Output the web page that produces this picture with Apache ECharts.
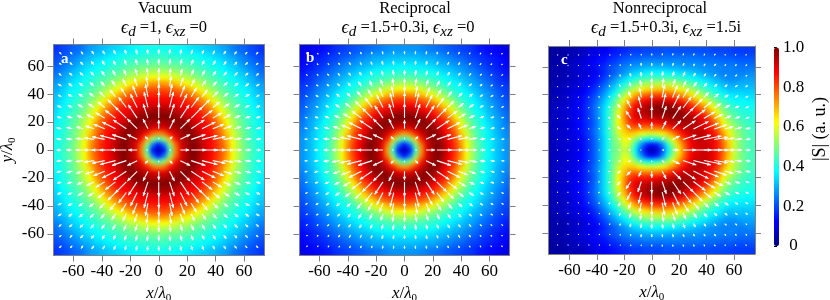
<!DOCTYPE html>
<html><head><meta charset="utf-8">
<style>html,body{margin:0;padding:0;background:#fff}#c{width:830px;height:300px}</style>
<script src="https://cdn.jsdelivr.net/npm/echarts@6/dist/echarts.min.js"></script>
</head><body><div id="c"></div>
<script>
// cell centres of the |S| maps (units of lambda0)
const cellCentres=[-72,-68,-64,-60,-56,-52,-48,-44,-40,-36,-32,-28,-24,-20,-16,-12,-8,-4,0,4,8,12,16,20,24,28,32,36,40,44,48,52,56,60,64,68,72];
const tickValues=[-60,-40,-20,0,20,40,60];
const barTicks=[0,0.2,0.4,0.6,0.8,1];
// arrow grid centres, from 0 outward
const arrowStepCentres=[0,7.6,15.2,22.8,30.4,38,45.6,53.2,60.8,68.4];

// |S| in percent. x>=0, y>=0 quadrant (rows y=0..72, cols x=0..72)
const vacuumS=[
[3,13,44,74,90,96,100,97,92,88,84,79,72,62,55,49,45,42,39],
[13,25,52,77,91,96,100,97,92,88,84,79,72,62,55,49,45,42,39],
[44,52,70,86,94,97,100,96,91,88,83,78,70,61,54,48,44,41,39],
[74,77,86,92,96,99,98,94,90,87,82,76,68,59,53,48,44,41,38],
[90,91,94,96,98,100,96,92,88,85,80,74,65,57,51,47,43,40,37],
[96,96,97,99,100,97,93,90,87,83,78,71,62,56,50,46,42,40,36],
[100,100,100,98,96,93,90,88,84,80,75,66,59,53,48,45,42,39,35],
[97,97,96,94,92,90,88,85,81,76,70,62,56,50,46,43,40,38,34],
[92,92,91,90,88,87,84,81,76,72,64,58,53,48,45,42,39,36,33],
[88,88,88,87,85,83,80,76,72,65,59,54,49,46,43,40,38,35,32],
[84,84,83,82,80,78,75,70,64,59,54,50,47,44,41,39,36,33,31],
[79,79,78,76,74,71,66,62,58,54,50,47,44,42,39,37,35,32,29],
[72,72,70,68,65,62,59,56,53,49,47,44,42,40,37,35,32,30,28],
[62,62,61,59,57,56,53,50,48,46,44,42,40,38,35,33,31,28,25],
[55,55,54,53,51,50,48,46,45,43,41,39,37,35,33,31,28,26,23],
[49,49,48,48,47,46,45,43,42,40,39,37,35,33,31,28,26,24,22],
[45,45,44,44,43,42,42,40,39,38,36,35,32,31,28,26,24,22,20],
[42,42,41,41,40,40,39,38,36,35,33,32,30,28,26,24,22,20,19],
[39,39,39,38,37,36,35,34,33,32,31,29,28,25,23,22,20,19,17]];
const reciprocalS=[
[3,13,42,72,90,97,100,95,88,82,73,62,53,46,41,37,33,30,27],
[13,24,50,76,91,97,100,95,88,82,73,62,53,46,41,37,33,30,27],
[42,50,68,85,94,98,99,93,87,80,71,60,52,45,40,36,33,30,27],
[72,76,85,92,97,100,97,91,85,78,68,58,50,44,40,36,32,29,26],
[90,91,94,97,99,98,94,88,82,75,64,55,48,43,39,35,31,28,25],
[97,97,98,100,98,95,90,85,79,70,60,52,46,42,38,34,31,28,24],
[100,100,99,97,94,90,85,80,73,64,56,49,44,40,36,32,29,27,23],
[95,95,93,91,88,85,80,74,66,58,52,46,41,38,34,31,28,25,22],
[88,88,87,85,82,79,73,66,59,53,47,43,39,36,33,30,27,24,21],
[82,82,80,78,75,70,64,58,53,48,43,40,37,34,31,28,25,23,20],
[73,73,71,68,64,60,56,52,47,43,40,38,35,32,29,27,24,21,19],
[62,62,60,58,55,52,49,46,43,40,38,35,32,30,27,25,22,20,18],
[53,53,52,50,48,46,44,41,39,37,35,32,30,28,25,23,20,18,17],
[46,46,45,44,43,42,40,38,36,34,32,30,28,25,23,21,19,17,15],
[41,41,40,40,39,38,36,34,33,31,29,27,25,23,21,19,17,16,14],
[37,37,36,36,35,34,32,31,30,28,27,25,23,21,19,17,16,14,13],
[33,33,33,32,31,31,29,28,27,25,24,22,20,19,17,16,15,14,12],
[30,30,30,29,28,28,27,25,24,22,21,20,18,17,16,14,14,12,11],
[27,27,27,26,25,24,23,22,21,20,19,18,17,15,14,13,12,11,10]];
// y>=0 half (rows y=0..72, cols x=-72..72)
const nonreciprocalS=[
[6,7,8,9,10,12,15,19,24,31,39,48,50,58,52,38,22,10,4,7,20,36,50,64,76,86,90,92,92,90,85,78,68,58,51,47,44],
[6,7,8,9,10,12,15,19,24,31,39,48,51,60,56,42,28,17,12,15,25,40,54,67,78,87,91,92,92,90,85,78,68,58,51,47,44],
[6,7,8,9,10,12,15,19,24,31,39,49,53,62,61,52,44,39,37,40,45,53,63,73,82,89,93,94,93,90,85,76,66,57,51,47,44],
[6,7,8,9,10,13,16,20,25,32,40,49,58,66,68,66,62,60,59,60,63,68,75,82,88,92,94,94,92,88,82,73,64,56,50,47,44],
[6,7,8,9,11,13,16,20,25,32,40,50,60,68,76,78,76,75,75,76,78,82,86,90,93,94,94,92,90,85,78,68,60,54,49,46,43],
[6,7,8,9,11,13,16,19,24,32,40,50,62,72,82,86,86,86,87,88,90,92,94,96,96,96,94,92,88,82,73,63,55,50,46,44,42],
[6,7,8,9,11,13,16,20,25,32,40,50,62,73,84,90,92,93,94,95,96,97,98,99,98,96,93,89,84,76,67,58,51,47,44,42,41],
[6,7,8,9,11,13,16,20,25,32,40,49,60,71,83,90,94,96,98,99,100,100,100,98,95,91,87,82,76,68,60,52,47,44,42,41,40],
[6,7,8,9,11,13,16,20,25,31,38,47,57,68,79,87,92,95,97,99,100,99,97,94,91,86,81,75,69,62,55,49,44,42,40,39,38],
[5,6,7,8,10,12,15,19,23,29,35,43,52,62,72,80,85,88,90,91,91,90,88,85,81,76,70,64,58,52,47,43,40,38,37,37,36],
[5,6,7,8,10,11,14,17,21,26,32,38,46,54,63,70,75,78,80,81,81,80,78,75,71,66,60,55,50,46,42,39,36,35,35,34,34],
[5,6,7,8,9,10,12,15,18,23,28,33,40,46,52,58,62,65,67,68,68,68,66,63,60,56,51,47,43,40,37,34,32,32,32,32,32],
[4,5,6,7,8,9,11,13,16,20,24,29,34,39,44,48,52,54,55,56,56,56,55,53,50,47,44,41,38,35,33,31,29,29,30,30,30],
[4,5,5,6,7,8,10,12,14,17,21,25,29,33,37,40,43,44,45,45,45,45,45,43,41,39,37,35,33,31,29,27,26,26,27,28,28],
[4,4,5,6,7,8,9,10,12,15,18,21,24,27,30,33,35,36,37,37,37,37,36,35,34,33,31,30,28,27,26,25,25,25,25,25,26],
[4,5,5,6,7,9,10,12,14,16,19,21,23,25,27,28,29,30,31,31,31,30,30,29,28,28,28,27,27,26,26,25,25,25,24,24,24],
[4,4,5,6,7,8,9,11,13,14,16,18,20,22,23,24,25,26,26,26,26,26,26,26,25,25,25,25,24,24,24,23,23,23,22,22,22],
[3,4,4,5,6,7,8,10,11,13,14,16,17,19,20,21,21,22,22,22,22,23,23,23,23,23,23,22,22,22,21,21,21,20,20,20,20],
[3,3,4,5,5,6,7,9,10,11,12,14,15,16,17,18,18,19,19,19,20,20,20,20,20,20,20,20,20,19,19,19,19,18,18,18,18]];

// arrow lengths, same quadrant/half layout as above
const vacuumArrows=[
[0,1.5,9,15,16,13,10,7.5,6,5],
[1.5,4,11,15,16,13,10,7.5,6,5],
[9,11,14,16,15,12,9,7,6,5],
[15,15,16,16,13,10.5,8,6.5,5.5,4.5],
[16,16,15,13,11,9,7,6,5,4.5],
[13,13,12,10.5,9,7.5,6,5.5,5,4],
[10,10,9,8,7,6,5.5,5,4.5,4],
[7.5,7.5,7,6.5,6,5.5,5,4.5,4,3.5],
[6,6,6,5.5,5,5,4.5,4,3.5,3],
[5,5,5,4.5,4.5,4,4,3.5,3,3]];
const reciprocalArrows=[
[0,1.5,9,15,15,11,8,5.5,4,3],
[1.5,4,11,15,15,11,8,5.5,4,3],
[9,11,14,15,14,10,7,5,4,3],
[15,15,15,14,12,8.5,6,4.5,3.5,2.5],
[15,15,14,12,9,7,5.5,4,3,2.5],
[11,11,10,8.5,7,5.5,4.5,3.5,3,2.5],
[8,8,7,6,5.5,4.5,3.5,3,2.5,2],
[5.5,5.5,5,4.5,4,3.5,3,2.5,2,2],
[4,4,4,3.5,3,3,2.5,2,2,1.5],
[3,3,3,2.5,2.5,2.5,2,2,1.5,1.5]];
const nonreciprocalArrows=[
[1,1,1,1,1,1.5,2,2.5,1,0,2,6,13,18,18,14,10,7,5],
[1,1,1,1,1,1.5,2,3,2,1.5,3,8,14,18,18,14,10,7,5],
[1,1,1,1,1,2,4,6,6,7,9,12,15,17,16,13,9,7,5],
[1,1,1,1,1.5,2,5,9,11,12,13,15,15,15,13,10,7,5,4],
[1,1,1,1,1.5,2,5,9,12,14,15,15,14,13,10,8,6,4.5,3.5],
[1,1,1,1,1.5,2,4,7,10,13,13,13,11,9,7,6,4.5,3.5,3],
[1,1,1,1,1,2,3,5,7,9,9,8,7,6,5,4,3.5,3,2.5],
[1,1,1,1,1,1.5,2,3.5,4.5,5,5,5,5,4,3.5,3,2.5,2.5,2],
[1,1,1,1,1,1,1.5,2,3,3,3,3,3,2.5,2.5,2.5,2,2,2],
[1,1,1,1,1,1,1,1.5,1.5,2,2,2,2,2,2,2,1.5,1.5,1.5]];

const SERIF='"Liberation Serif","Times New Roman",serif';
const GREY='#7f7f7f';
const jet=['#00007f','#0000ff','#007fff','#00ffff','#7fff7f','#ffff00','#ff7f00','#ff0000','#7f0000'];

const panels=[
 {s:vacuumS,a:vacuumArrows,half:false,left:53.5,top:44.5,w:210.5,h:211,xr:74,yr:75.4,yLabels:true},
 {s:reciprocalS,a:reciprocalArrows,half:false,left:299.5,top:44.5,w:210,h:211,xr:74.1,yr:75.4,yLabels:false},
 {s:nonreciprocalS,a:nonreciprocalArrows,half:true,left:548.5,top:46,w:206.5,h:208,xr:75.3,yr:75.2,yLabels:false}
];

// the maps repeat their outer cells past the frame so that the soft edge falls outside it
const PAD=2;
const padded=[];
for(let k=-PAD;k<cellCentres.length+PAD;k++)padded.push(k<0?cellCentres[0]+4*k:k>=cellCentres.length?cellCentres[cellCentres.length-1]+4*(k-cellCentres.length+1):cellCentres[k]);
const N=cellCentres.length, mid=(N-1)/2;
const clampI=(k)=>Math.max(0,Math.min(N-1,k));
function cellData(p){
  const out=[];
  for(let yi=0;yi<padded.length;yi++)for(let xi=0;xi<padded.length;xi++){
    const cy=clampI(yi-PAD), cx=clampI(xi-PAD);
    const r=p.s[Math.abs(cy-mid)];
    out.push([xi,yi,p.half?r[cx]:r[Math.abs(cx-mid)]]);
  }
  return out;
}
function arrowData(p){
  const out=[], M=arrowStepCentres.length;
  for(let yi=-(M-1);yi<M;yi++)for(let xi=-(M-1);xi<M;xi++){
    const r=p.a[Math.abs(yi)];
    const len=p.half?r[xi+M-1]:r[Math.abs(xi)];
    const x=Math.sign(xi)*arrowStepCentres[Math.abs(xi)], y=Math.sign(yi)*arrowStepCentres[Math.abs(yi)];
    if(len>0)out.push([x,y,len]);
  }
  return out;
}
function renderArrow(params,api){
  const x=api.value(0),y=api.value(1),L=api.value(2);
  const p=api.coord([x,y]);
  const n=Math.hypot(x,y)||1, ux=x/n, uy=-y/n;
  const tip=[p[0]+ux*L,p[1]+uy*L];
  const hl=Math.min(3.6,L*0.6), hw=Math.min(1.7,L*0.35);
  const bx=tip[0]-ux*hl, by=tip[1]-uy*hl;
  return {type:'group',children:[
    {type:'line',shape:{x1:p[0],y1:p[1],x2:tip[0],y2:tip[1]},style:{stroke:'#fff',lineWidth:1.1,fill:null}},
    {type:'polygon',shape:{points:[tip,[bx-uy*hw,by+ux*hw],[bx+uy*hw,by-ux*hw]]},style:{fill:'#fff'}}
  ]};
}

const grid=[],xAxis=[],yAxis=[],series=[];
const tickStyle={show:true,customValues:tickValues,length:6,inside:false,lineStyle:{color:GREY,width:1}};
const nameRich={i:{fontFamily:SERIF,fontSize:17,fontStyle:'italic',color:'#000',lineHeight:20},s:{fontFamily:SERIF,fontSize:11,color:'#000',verticalAlign:'bottom'},t:{fontFamily:SERIF,fontSize:17,color:'#000',lineHeight:20}};
const clipParts=[];
panels.forEach((p,pi)=>{
  const gi=grid.length;
  grid.push({left:p.left,top:p.top,width:p.w,height:p.h,show:false,outerBoundsMode:'none'});
  const sx=p.w/(2*p.xr), sy=p.h/(2*p.yr), hw=(72+2+4*PAD)*sx, hh=(72+2+4*PAD)*sy;
  const cx=p.left+p.w/2, cy=p.top+p.h/2;
  const hg=grid.length;
  grid.push({left:cx-hw,top:cy-hh,width:2*hw,height:2*hh,show:false,outerBoundsMode:'none'});
  clipParts.push(`M${p.left} ${p.top}h${p.w}v${p.h}h${-p.w}z`);
  const line={show:true,onZero:false,lineStyle:{color:GREY,width:1}};
  const xBase=xAxis.length,yBase=yAxis.length;
  xAxis.push({type:'value',gridIndex:gi,position:'bottom',min:-p.xr,max:p.xr,axisLine:line,axisTick:tickStyle,splitLine:{show:false},
    axisLabel:{show:true,customValues:tickValues,margin:8,fontFamily:SERIF,fontSize:17,color:'#000'},
    name:'{i|x}{t|/}{i|λ}{s|0}',nameLocation:'middle',nameGap:26,nameTextStyle:{rich:nameRich}});
  xAxis.push({type:'value',gridIndex:gi,position:'top',min:-p.xr,max:p.xr,axisLine:line,axisTick:tickStyle,splitLine:{show:false},axisLabel:{show:false}});
  const left={type:'value',gridIndex:gi,position:'left',min:-p.yr,max:p.yr,axisLine:line,axisTick:tickStyle,splitLine:{show:false},
    axisLabel:p.yLabels?{show:true,customValues:tickValues,margin:9,fontFamily:SERIF,fontSize:17,color:'#000'}:{show:false}};
  if(p.yLabels){Object.assign(left,{name:'{i|y}{t|/}{i|λ}{s|0}',nameLocation:'middle',nameRotate:90,nameGap:33,nameTextStyle:{rich:nameRich}});}
  yAxis.push(left);
  yAxis.push({type:'value',gridIndex:gi,position:'right',min:-p.yr,max:p.yr,axisLine:line,axisTick:tickStyle,splitLine:{show:false},axisLabel:{show:false}});
  const hx=xAxis.length,hy=yAxis.length;
  xAxis.push({type:'category',gridIndex:hg,data:padded,show:false});
  yAxis.push({type:'category',gridIndex:hg,data:padded,show:false});
  series.push({type:'heatmap',xAxisIndex:hx,yAxisIndex:hy,data:cellData(p),progressive:0,animation:false,itemStyle:{borderWidth:0},emphasis:{disabled:true},zlevel:-1});
  series.push({type:'custom',xAxisIndex:xBase,yAxisIndex:yBase,data:arrowData(p),renderItem:renderArrow,animation:false,silent:true,z:5,encode:{x:0,y:1},clip:true});
});
// colour bar axis
const bg=grid.length;
grid.push({left:774,top:47.5,width:5,height:198.5,show:false,outerBoundsMode:'none'});
xAxis.push({type:'value',gridIndex:bg,show:false,min:0,max:1});
yAxis.push({type:'value',gridIndex:bg,position:'right',min:0,max:1,
  axisLine:{show:false},splitLine:{show:false},
  axisTick:{show:true,customValues:barTicks,length:3,lineStyle:{color:'#000'}},
  axisLabel:{show:true,customValues:barTicks,margin:14.5,align:'center',fontFamily:SERIF,fontSize:17,color:'#000',formatter:v=>v===0?'0':v.toFixed(1)}});

const titleRich={e:{fontFamily:SERIF,fontSize:18,fontStyle:'italic',color:'#000',lineHeight:24},s:{fontFamily:SERIF,fontSize:15,fontStyle:'italic',color:'#000',verticalAlign:'bottom'},t:{fontFamily:SERIF,fontSize:16.5,color:'#000',lineHeight:24}};
const mk=(text,cx,top)=>({text,left:cx,top,textAlign:'center',padding:0,textStyle:{fontFamily:SERIF,fontSize:16.5,fontWeight:'normal',color:'#000',rich:titleRich}});
const letter=(text,x,y)=>({text,left:x,top:y,padding:0,textStyle:{fontFamily:SERIF,fontSize:15,fontWeight:'bold',color:'#fff'},z:9});

const option={
  animation:false,
  title:[
    mk('Vacuum',165,0),mk('{e|ϵ}{s|d}{t| =1, }{e|ϵ}{s|xz}{t| =0}',164,16),
    mk('Reciprocal',415,0),mk('{e|ϵ}{s|d}{t| =1.5+0.3i, }{e|ϵ}{s|xz}{t| =0}',408,16),
    mk('Nonreciprocal',660,0),mk('{e|ϵ}{s|d}{t| =1.5+0.3i, }{e|ϵ}{s|xz}{t| =1.5i}',666,16),
    letter('a',61,52),letter('b',306,51),letter('c',561,53)
  ],
  graphic:[{type:'text',x:820,y:129,rotation:Math.PI/2,style:{text:'|S| (a. u.)',fontFamily:SERIF,fontSize:18,fill:'#000',align:'center',verticalAlign:'middle'}}],
  grid,xAxis,yAxis,series,
  visualMap:{type:'continuous',min:0,max:100,dimension:2,seriesIndex:[0,2,4],left:774,top:47.5,itemWidth:5,itemHeight:198.5,padding:0,
    calculable:false,hoverLink:false,realtime:false,text:null,showLabel:false,inRange:{color:jet}}
};
const chart=echarts.init(document.getElementById('c'),null,{renderer:'canvas'});
chart.setOption(option);
// soften the cell edges of the map layer only; axes and arrows stay on their own layer
const mapCanvas=chart.getZr().painter.getLayer(-1).dom;
mapCanvas.style.filter='blur(2.3px)';
mapCanvas.style.clipPath=`path('${clipParts.join(' ')}')`;
</script></body></html>
